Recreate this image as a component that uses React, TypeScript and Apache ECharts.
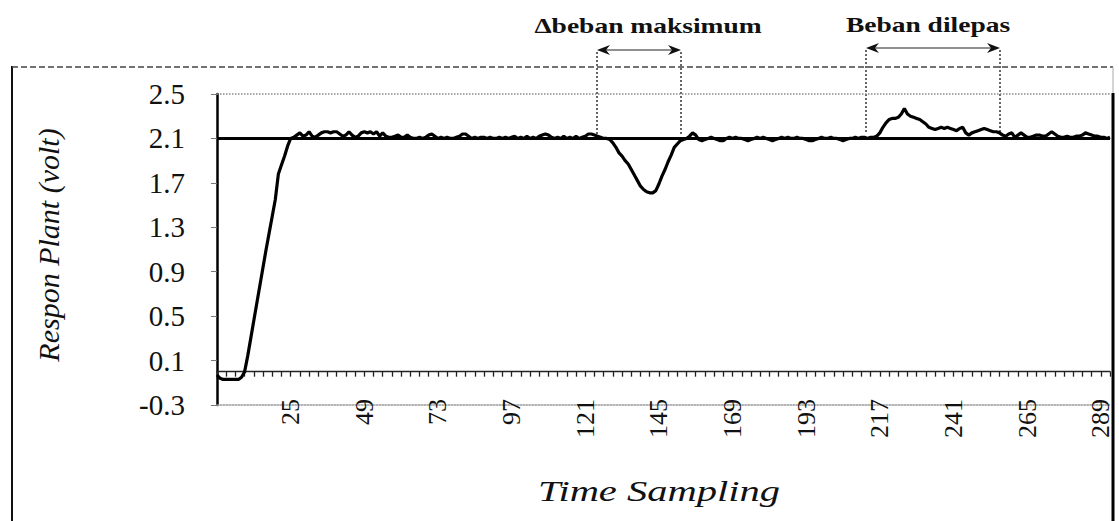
import React, { useEffect, useRef } from "react";
import * as echarts from "echarts";

// Time sampling categories 1..292
const sampleCount = 292;
const categories: string[] = Array.from({ length: sampleCount }, (_, i) => String(i + 1));

// Plant response (volt), split by phase
const startup = [
  -0.03, -0.06, -0.07, -0.07, -0.07, -0.07, -0.07, -0.07, -0.05, 0.0,
  0.14, 0.3, 0.46, 0.62, 0.78, 0.94, 1.1, 1.25, 1.4, 1.55,
  1.78, 1.86, 1.94, 2.03, 2.1,
];
const settle = [
  2.11, 2.13, 2.15, 2.12, 2.13, 2.16, 2.12, 2.11, 2.13, 2.15,
  2.16, 2.16, 2.15, 2.16, 2.16, 2.14, 2.12, 2.13, 2.16, 2.13,
  2.11, 2.12, 2.15, 2.16, 2.15, 2.16, 2.14, 2.16, 2.12, 2.15,
  2.12, 2.11, 2.11, 2.12, 2.13, 2.11, 2.11, 2.13, 2.11, 2.1,
];
const steadyA = [
  2.1, 2.11, 2.1, 2.11, 2.13, 2.14, 2.12, 2.1, 2.11, 2.1,
  2.11, 2.1, 2.1, 2.11, 2.12, 2.14, 2.14, 2.12, 2.1, 2.11,
  2.1, 2.11, 2.11, 2.1, 2.11, 2.1, 2.1, 2.11, 2.1, 2.11,
  2.1, 2.11, 2.12, 2.1, 2.11, 2.1, 2.12, 2.1, 2.11, 2.1,
  2.12, 2.13, 2.14, 2.13, 2.11, 2.1, 2.11, 2.1, 2.12, 2.1,
  2.11, 2.1, 2.12, 2.1, 2.11, 2.12, 2.14, 2.14, 2.13, 2.12,
  2.11, 2.1,
];
const loadDip = [
  2.1, 2.09, 2.06, 2.02, 1.97, 1.94, 1.9, 1.87, 1.82, 1.77,
  1.72, 1.67, 1.64, 1.62, 1.61, 1.61, 1.63, 1.69, 1.76, 1.82,
  1.89, 1.95, 2.02, 2.05, 2.08, 2.09, 2.1, 2.12, 2.15, 2.13,
  2.09, 2.08, 2.09,
];
const steadyB = [
  2.1, 2.11, 2.1, 2.09, 2.08, 2.08, 2.1, 2.11, 2.1, 2.11,
  2.1, 2.1, 2.09, 2.08, 2.09, 2.1, 2.11, 2.1, 2.11, 2.1,
  2.09, 2.08, 2.09, 2.1, 2.11, 2.1, 2.11, 2.1, 2.1, 2.11,
  2.1, 2.1, 2.09, 2.08, 2.08, 2.09, 2.1, 2.11, 2.1, 2.1,
  2.11, 2.1, 2.1, 2.09, 2.08, 2.09, 2.1, 2.1, 2.11, 2.1,
  2.11, 2.11, 2.1, 2.11,
];
const loadRelease = [
  2.11, 2.12, 2.15, 2.2, 2.24, 2.27, 2.28, 2.28, 2.29, 2.32,
  2.37, 2.32, 2.3, 2.29, 2.28, 2.27, 2.25, 2.23, 2.2, 2.19,
  2.18, 2.19, 2.2, 2.19, 2.2, 2.19, 2.18, 2.17, 2.19, 2.2,
  2.15, 2.13, 2.15, 2.16, 2.17, 2.18, 2.19, 2.18, 2.17, 2.16,
  2.16, 2.15, 2.13, 2.12, 2.14, 2.15, 2.11, 2.13, 2.15, 2.13,
  2.11, 2.11, 2.12, 2.13, 2.13, 2.12, 2.12, 2.14, 2.16, 2.14,
  2.12, 2.11, 2.11, 2.12, 2.11, 2.11, 2.12, 2.12, 2.13, 2.15,
  2.14, 2.13, 2.12, 2.12, 2.11, 2.11, 2.1, 2.11,
];
const response = [...startup, ...settle, ...steadyA, ...loadDip, ...steadyB, ...loadRelease];

const setpoint = 2.1;
const yMin = -0.3;
const yMax = 2.5;
const yStep = 0.4;
const labelEvery = 24;

const serif = "Liberation Serif, serif";

export default function App() {
  const ref = useRef<HTMLDivElement>(null);
  useEffect(() => {
    const chart = echarts.init(ref.current as HTMLDivElement, null, { renderer: "svg" });
    const arrow = (x1: number, x2: number, y: number) => [
      { type: "line", shape: { x1: x1 + 6, y1: y, x2: x2 - 6, y2: y }, style: { stroke: "#222", lineWidth: 1.2 } },
      { type: "polygon", shape: { points: [[x1, y], [x1 + 13, y - 5], [x1 + 9, y], [x1 + 13, y + 5]] }, style: { fill: "#111" } },
      { type: "polygon", shape: { points: [[x2, y], [x2 - 13, y - 5], [x2 - 9, y], [x2 - 13, y + 5]] }, style: { fill: "#111" } },
      { type: "line", shape: { x1: x1, y1: y + 2, x2: x1, y2: 134 }, style: { stroke: "#333", lineWidth: 1.5, lineDash: [2, 2] } },
      { type: "line", shape: { x1: x2, y1: y + 2, x2: x2, y2: 134 }, style: { stroke: "#333", lineWidth: 1.5, lineDash: [2, 2] } },
    ];
    chart.setOption({
      animation: false,
      backgroundColor: "#ffffff",
      grid: { left: 217, right: 9, top: 94, bottom: 116, containLabel: false },
      xAxis: [
        {
          type: "category",
          data: categories,
          boundaryGap: false,
          position: "top",
          axisLine: { show: true, onZero: true, lineStyle: { color: "#222", width: 1.3 } },
          axisTick: { show: true, inside: true, interval: 2, length: 5, lineStyle: { color: "#222", width: 1.3 } },
          axisLabel: { show: false },
          splitLine: { show: false },
        },
        {
          type: "category",
          data: categories,
          boundaryGap: false,
          position: "bottom",
          axisLine: { show: true, onZero: false, lineStyle: { color: "#9a9a9a", width: 1.5, type: "dotted" } },
          axisTick: { show: false },
          splitLine: { show: false },
          axisLabel: {
            rotate: 90,
            margin: -6,
            fontFamily: serif,
            fontSize: 26,
            color: "#111",
            interval: (i: number) => i > 0 && i % labelEvery === 0,
          },
        },
      ],
      yAxis: {
        type: "value",
        min: yMin,
        max: yMax,
        interval: yStep,
        axisLine: { show: true, lineStyle: { color: "#000", width: 2.5 } },
        axisTick: { show: true, length: 6, lineStyle: { color: "#777" } },
        axisLabel: {
          margin: 32,
          fontFamily: serif,
          fontSize: 29,
          color: "#111",
          formatter: (v: number) => v.toFixed(1),
        },
        splitLine: { show: false },
      },
      series: [
        {
          type: "line",
          name: "Respon Plant",
          data: response,
          symbol: "none",
          lineStyle: { color: "#000", width: 3.2 },
          z: 3,
          markLine: {
            silent: true,
            symbol: "none",
            label: { show: false },
            data: [
              { yAxis: setpoint, lineStyle: { color: "#000", width: 3, type: "solid" } },
              { yAxis: yMax, lineStyle: { color: "#8a8a8a", width: 1.5, type: "dotted" } },
            ],
          },
        },
      ],
      graphic: [
        { type: "line", shape: { x1: 12, y1: 66, x2: 12, y2: 521 }, style: { stroke: "#111", lineWidth: 2 } },
        { type: "line", shape: { x1: 12, y1: 67, x2: 1113, y2: 67 }, style: { stroke: "#444", lineWidth: 1.5, lineDash: [6, 3] } },
        { type: "line", shape: { x1: 1113, y1: 67, x2: 1113, y2: 93 }, style: { stroke: "#aaa", lineWidth: 1 } },
        { type: "line", shape: { x1: 1113, y1: 93, x2: 1113, y2: 521 }, style: { stroke: "#000", lineWidth: 3 } },
        ...arrow(597, 681, 50),
        ...arrow(866, 1000, 48),
        {
          type: "text", x: 648, y: 25, scaleX: 1.25,
          style: { text: "Δbeban maksimum", font: "bold 22px Liberation Serif, serif", fill: "#111", align: "center", verticalAlign: "middle", textAlign: "center", textVerticalAlign: "middle" },
        },
        {
          type: "text", x: 928, y: 24, scaleX: 1.25,
          style: { text: "Beban dilepas", font: "bold 22px Liberation Serif, serif", fill: "#111", align: "center", verticalAlign: "middle", textAlign: "center", textVerticalAlign: "middle" },
        },
        {
          type: "text", x: 48, y: 245, rotation: Math.PI / 2,
          style: { text: "Respon Plant (volt)", font: "italic 30px Liberation Serif, serif", fill: "#111", align: "center", verticalAlign: "middle", textAlign: "center", textVerticalAlign: "middle" },
        },
        {
          type: "text", x: 659, y: 491, scaleX: 1.35,
          style: { text: "Time Sampling", font: "italic 30px Liberation Serif, serif", fill: "#111", align: "center", verticalAlign: "middle", textAlign: "center", textVerticalAlign: "middle" },
        },
      ],
    });
    return () => chart.dispose();
  }, []);
  return (
    <div
      ref={ref}
      style={{ position: "fixed", left: 0, top: 0, width: 1119, height: 521, background: "#fff" }}
    />
  );
}
